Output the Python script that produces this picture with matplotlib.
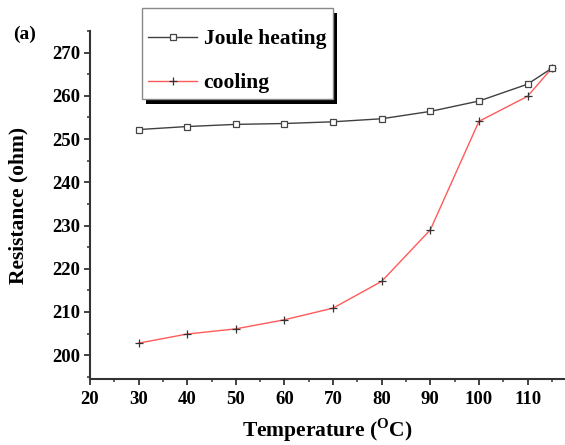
import matplotlib
matplotlib.use("Agg")
import matplotlib.pyplot as plt
from matplotlib.ticker import MultipleLocator
from matplotlib.patches import Rectangle

temperature = [30, 40, 50, 60, 70, 80, 90, 100, 110, 115]
joule_heating = [252.2, 252.9, 253.4, 253.6, 254.0, 254.7, 256.4, 258.8, 262.7, 266.4]
cooling = [202.8, 204.9, 206.1, 208.2, 210.9, 217.1, 229.0, 254.1, 259.9, 266.4]
x_ticks = [20, 30, 40, 50, 60, 70, 80, 90, 100, 110]
y_ticks = [200, 210, 220, 230, 240, 250, 260, 270]

plt.rcParams['font.family'] = ['Liberation Serif', 'DejaVu Serif']
plt.rcParams['font.weight'] = 'bold'
plt.rcParams['mathtext.fontset'] = 'custom'
plt.rcParams['mathtext.rm'] = 'Liberation Serif:bold'
plt.rcParams['mathtext.bf'] = 'Liberation Serif:bold'

W, H = 565, 445
fig = plt.figure(figsize=(W / 100, H / 100), dpi=100)
ax = fig.add_axes([90 / W, 1 - 379 / H, 475 / W, 348 / H])

l1, = ax.plot(temperature, joule_heating, color='#404040', lw=1.0, marker='s', ms=5,
              mfc='white', mec='#444444', mew=0.9, label='Joule heating', zorder=3)
l2, = ax.plot(temperature, cooling, color='#ff5a5a', lw=1.0, marker='+', ms=6,
              mec='#333333', mew=0.9, label='cooling', zorder=2)

ax.set_xlim(20, 117.7)
ax.set_ylim(194.5, 275)
ax.set_xticks(x_ticks)
ax.set_yticks(y_ticks)
ax.xaxis.set_minor_locator(MultipleLocator(5))
ax.yaxis.set_minor_locator(MultipleLocator(5))

for s in ['top', 'right']:
    ax.spines[s].set_visible(False)
for s in ['left', 'bottom']:
    ax.spines[s].set_color('#333333')
    ax.spines[s].set_linewidth(1.5)

ax.tick_params(which='major', direction='out', length=4, width=1.3, color='#333333',
               labelsize=13.5)
ax.tick_params(which='minor', direction='out', length=2.5, width=1.1, color='#333333')
ax.tick_params(axis='x', which='major', pad=5)
ax.tick_params(axis='y', which='major', pad=3)
for lab in ax.get_xticklabels() + ax.get_yticklabels():
    lab.set_fontweight('bold')

ax.set_xlabel('Temperature ($^{\\mathrm{O}}$C)', fontsize=15.5, fontweight='bold', labelpad=6)
ax.set_ylabel('Resistance (ohm)', fontsize=15.5, fontweight='bold', labelpad=17)

# legend frame with shadow
fig.patches.append(Rectangle((146 / W, 1 - 104 / H), 191 / W, 91 / H,
                             transform=fig.transFigure, facecolor='black',
                             edgecolor='none', zorder=5))
fig.patches.append(Rectangle((142 / W, 1 - 99 / H), 191 / W, 91 / H,
                             transform=fig.transFigure, facecolor='white',
                             edgecolor='#888888', lw=1, zorder=6))

leg = fig.legend(handles=[l1, l2], loc='upper left', bbox_to_anchor=(148 / W, 1 - 29 / H),
                 bbox_transform=fig.transFigure, frameon=False, borderpad=0,
                 borderaxespad=0, handlelength=2.28, handletextpad=0.3,
                 labelspacing=1.12, prop={'family': 'Liberation Serif', 'weight': 'bold', 'size': 15.5})
leg.set_zorder(10)

fig.text(25 / W, 1 - 34 / H, '(a)', fontsize=14, fontweight='bold',
         ha='center', va='center')

fig.savefig('out.png', dpi=100)
